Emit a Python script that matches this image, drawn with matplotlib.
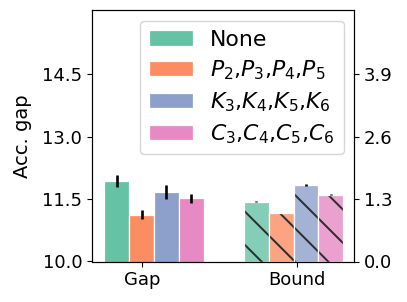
import numpy as np
import matplotlib
matplotlib.use("Agg")
import matplotlib.pyplot as plt
from matplotlib.colors import to_rgba

# data
categories = ["Gap", "Bound"]
methods = ["None", "$P_2$,$P_3$,$P_4$,$P_5$",
           "$K_3$,$K_4$,$K_5$,$K_6$", "$C_3$,$C_4$,$C_5$,$C_6$"]
gap_vals = [11.94, 11.13, 11.68, 11.52]
gap_err = [0.15, 0.10, 0.17, 0.11]
bound_vals = [1.245, 1.005, 1.59, 1.39]
bound_err = [0.012, 0.004, 0.02, 0.01]
colors = ["#66c2a5", "#fc8d62", "#8da0cb", "#e78ac3"]

left_ticks = [10.0, 11.5, 13.0, 14.5]
right_ticks = [0.0, 1.3, 2.6, 3.9]

DPI = 100
plt.rcParams["hatch.linewidth"] = 1.4

fig = plt.figure(figsize=(407 / DPI, 302 / DPI), dpi=DPI)
ax = fig.add_axes([92 / 407, 40.5 / 302, 262 / 407, 251.2 / 302])
ax2 = ax.twinx()

width = 0.16
offsets = (np.arange(4) - 1.5) * width
gap_center = 0.076
bound_center = 0.976

handles = []
for i in range(4):
    b = ax.bar(gap_center + offsets[i], gap_vals[i], width, color=colors[i],
               edgecolor="white", linewidth=0.9, label=methods[i])
    ax.errorbar(gap_center + offsets[i], gap_vals[i], yerr=gap_err[i],
                fmt="none", ecolor="black", elinewidth=1.9, capsize=0)
    handles.append(b)

    # hatched, lighter bars on the right axis
    ax2.bar(bound_center + offsets[i], bound_vals[i], width,
            facecolor=to_rgba(colors[i], 0.8), edgecolor="#2b2b2b",
            linewidth=0, hatch="\\")
    ax2.bar(bound_center + offsets[i], bound_vals[i], width, fill=False,
            edgecolor="white", linewidth=0.9)
    ax2.errorbar(bound_center + offsets[i], bound_vals[i], yerr=bound_err[i],
                 fmt="none", ecolor="black", elinewidth=1.9, capsize=0)

ax.set_xlim(-0.3245, 1.3658)
ax.set_xticks([0, 1])
ax.set_xticklabels(categories)
ax.set_ylim(10.0, 16.04)
ax.set_yticks(left_ticks)
ax.set_yticklabels([f"{v:.1f}" for v in left_ticks])
ax.set_ylabel("Acc. gap", fontsize=14, labelpad=7)

ax2.set_ylim(0.0, 5.23)
ax2.set_yticks(right_ticks)
ax2.set_yticklabels([f"{v:.1f}" for v in right_ticks])

for a in (ax, ax2):
    a.tick_params(labelsize=13)

ax2.legend(handles=handles, labels=methods, loc="upper right",
           bbox_to_anchor=(343.5 / 407, 281 / 302), bbox_transform=fig.transFigure,
           borderaxespad=0, fontsize=15.8, labelspacing=0.38,
           framealpha=0.8)

fig.savefig("out.png", dpi=DPI)
